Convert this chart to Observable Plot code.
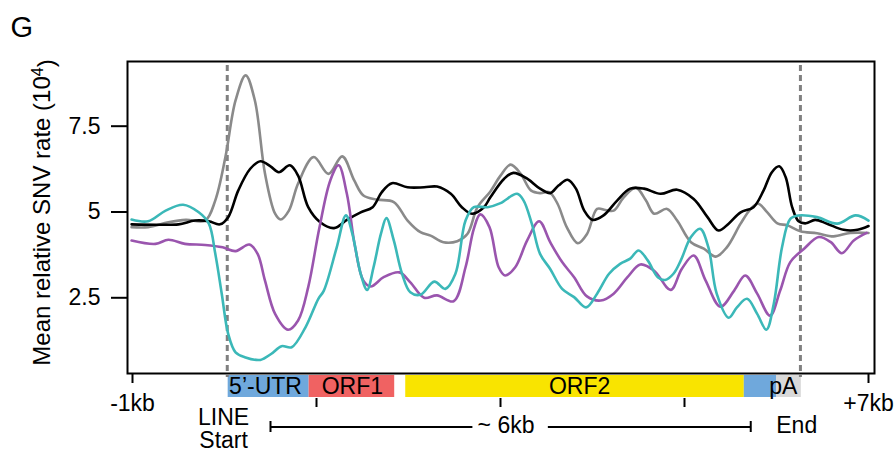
<!DOCTYPE html>
<html>
<head>
<meta charset="utf-8">
<script src="https://cdn.jsdelivr.net/npm/d3@7"></script>
<script src="https://cdn.jsdelivr.net/npm/@observablehq/plot@0.6"></script>
<style>
  body { margin: 0; background: #fff; }
</style>
</head>
<body>
<div id="chart"></div>
<script>
// ---------------- data (x in kb along the LINE metaplot, y = mean relative SNV rate ×10^4) ----------------
const grayX = [-1.01,-0.83,-0.61,-0.42,-0.21,-0.10,0.01,0.12,0.23,0.33,0.44,0.55,0.61,0.70,0.80,0.97,1.13,1.28,1.41,1.51,1.66,1.84,1.99,2.13,2.24,2.38,2.53,2.64,2.75,2.89,3.00,3.11,3.22,3.33,3.43,3.53,3.62,3.72,3.84,3.94,4.05,4.14,4.23,4.34,4.47,4.58,4.67,4.81,4.92,5.07,5.21,5.34,5.46,5.61,5.72,5.80,5.90,6.01,6.12,6.26,6.44,6.62,6.80,7.00];
const grayY = [4.56,4.56,4.70,4.77,4.75,5.34,6.60,8.25,8.98,8.25,6.12,4.95,4.78,5.04,5.83,6.60,6.11,6.62,5.92,5.48,5.36,5.29,4.75,4.41,4.31,4.12,4.15,4.36,5.14,5.60,6.06,6.38,6.11,5.63,5.55,5.58,5.24,4.56,4.09,4.36,5.09,5.06,5.04,5.43,5.71,5.34,4.95,5.09,4.75,4.12,3.93,3.70,3.97,4.66,5.09,5.24,4.99,4.67,4.61,4.44,4.38,4.29,4.39,4.39];

const blackX = [-1.01,-0.75,-0.50,-0.32,-0.17,-0.05,0.04,0.15,0.28,0.39,0.50,0.59,0.71,0.80,0.91,1.04,1.19,1.33,1.48,1.61,1.71,1.82,1.99,2.17,2.31,2.46,2.58,2.69,2.82,2.89,3.04,3.14,3.29,3.43,3.54,3.63,3.73,3.82,3.91,4.00,4.12,4.27,4.41,4.56,4.74,4.92,5.10,5.25,5.37,5.48,5.61,5.75,5.86,5.95,6.03,6.10,6.17,6.24,6.32,6.42,6.55,6.73,6.88,7.00];
const blackY = [4.64,4.63,4.64,4.75,4.73,4.64,4.85,5.63,6.26,6.48,6.33,6.16,6.36,6.06,5.14,4.70,4.53,4.77,4.99,5.14,5.58,5.84,5.72,5.72,5.74,5.53,5.14,4.95,5.14,5.43,5.97,6.14,5.97,5.68,5.55,5.77,5.94,5.68,5.04,4.77,4.90,5.34,5.68,5.68,5.53,5.65,5.38,4.85,4.46,4.66,4.99,5.14,5.63,6.16,6.33,6.01,5.14,4.73,4.67,4.77,4.66,4.48,4.48,4.59];

const tealX = [-1.01,-0.83,-0.64,-0.45,-0.28,-0.17,-0.10,-0.03,0.04,0.12,0.22,0.39,0.51,0.62,0.73,0.88,1.02,1.08,1.22,1.32,1.39,1.48,1.55,1.62,1.70,1.76,1.84,1.93,2.02,2.13,2.28,2.40,2.51,2.62,2.71,2.86,3.00,3.18,3.25,3.34,3.43,3.54,3.67,3.80,3.93,4.05,4.18,4.30,4.41,4.50,4.60,4.71,4.79,4.88,4.96,5.07,5.17,5.26,5.35,5.48,5.57,5.68,5.79,5.89,5.97,6.06,6.15,6.24,6.44,6.66,6.86,7.00];
const tealY = [4.78,4.73,5.04,5.21,4.99,4.66,3.78,2.62,1.45,0.91,0.77,0.69,0.87,1.09,1.06,1.64,2.47,2.71,3.97,4.90,4.36,3.20,2.73,3.39,4.36,4.82,4.17,3.20,2.66,2.59,2.97,2.76,3.20,4.75,5.14,5.14,5.26,5.53,5.34,4.66,3.78,3.34,2.76,2.52,2.22,2.62,3.20,3.49,3.64,3.88,3.59,3.10,3.02,3.20,3.59,4.27,4.51,3.97,2.62,1.92,2.22,2.47,2.03,1.57,2.32,3.97,4.80,4.90,4.85,4.66,4.90,4.75];

const purpleX = [-1.01,-0.75,-0.61,-0.43,-0.21,-0.02,0.12,0.27,0.36,0.44,0.55,0.69,0.80,0.91,1.03,1.15,1.24,1.33,1.42,1.51,1.59,1.73,1.90,2.02,2.17,2.31,2.49,2.62,2.71,2.78,2.88,2.98,3.05,3.16,3.29,3.42,3.54,3.67,3.80,3.94,4.09,4.23,4.38,4.52,4.67,4.85,4.97,5.10,5.23,5.39,5.54,5.66,5.79,5.93,6.04,6.15,6.30,6.46,6.59,6.71,6.84,6.98];
const purpleY = [4.17,4.07,4.19,4.07,4.04,3.97,3.86,4.05,3.78,3.00,2.03,1.57,1.84,2.81,4.52,5.92,6.36,5.53,3.97,3.00,2.83,3.10,3.24,2.95,2.50,2.57,2.40,3.39,4.51,4.93,4.56,3.39,3.15,3.39,4.17,4.73,4.12,3.54,3.10,2.54,2.42,2.62,3.10,3.47,3.29,2.73,3.34,3.73,3.00,2.24,2.71,3.15,2.62,1.98,2.71,3.54,3.93,4.27,4.12,3.80,4.17,4.39];

// LINE element structure
const geneType  = ["UTR", "ORF1", "ORF2", "UTR", "pA"];
const geneStart = [0.04, 0.92, 1.97, 5.65, 6.00];
const geneEnd   = [0.92, 1.85, 5.65, 6.00, 6.27];
const geneLabelsStart = ["5’-UTR", "pA"];
const geneLabelsStartX = [0.05, 5.92];
const geneLabelsMid = ["ORF1", "ORF2"];
const geneLabelsMidX = [1.39, 3.86];

// boundaries and axis labels
const lineBounds = [0.03, 6.26];
const yTicks = [2.5, 5, 7.5];
const yTickLabels = ["2.5", "5", "7.5"];
const xTickVals = [-1, 7];
const xTickLabels = ["-1kb", "+7kb"];
const innerTicks = [1, 3, 5];
const bracketStart = [0.50, 3.52];
const bracketEnd = [2.70, 5.72];
const bracketCaps = [0.50, 5.72];
const startLabel = ["LINE\nStart"];
const startLabelX = [-0.01];
const midLabels = ["~ 6kb", "End"];
const midLabelsX = [3.06, 6.22];
const yLabel = "Mean relative SNV rate (10";
const yLabelSup = "4";
const panelLabel = "G";

// ---------------- tables ----------------
const toRows = (xs, ys) => xs.map((x, i) => ({x, y: ys[i]}));
const gray = toRows(grayX, grayY);
const black = toRows(blackX, blackY);
const teal = toRows(tealX, tealY);
const purple = toRows(purpleX, purpleY);
const genes = geneType.map((t, i) => ({type: t, start: geneStart[i], end: geneEnd[i]}));
const brackets = bracketStart.map((s, i) => ({s, e: bracketEnd[i]}));

const font = "'Liberation Sans', Arial, Helvetica, sans-serif";
const lw = 2.6;

const chart = Plot.plot({
  width: 894,
  height: 453,
  marginTop: 61,
  marginLeft: 127,
  marginRight: 20,
  marginBottom: 80,
  style: {fontFamily: font, fontSize: "23px", background: "#fff", color: "#000", overflow: "visible"},
  x: {domain: [-1, 7], insetLeft: 5, insetRight: 6},
  y: {domain: [0.294, 9.385]},
  color: {domain: ["UTR", "ORF1", "ORF2", "pA"], range: ["#6fa8dc", "#f06262", "#f9e400", "#d9d9d9"]},
  marks: [
    // gene structure bar
    Plot.rect(genes, {x1: "start", x2: "end", fill: "type", insetTop: 314, insetBottom: -24}),
    // LINE start/end dashed lines
    Plot.ruleX(lineBounds, {stroke: "#808080", strokeWidth: 3, strokeDasharray: "6,4", insetTop: 4, insetBottom: -4}),
    // series
    Plot.line(gray, {x: "x", y: "y", stroke: "#8a8a8a", strokeWidth: lw, curve: "catmull-rom"}),
    Plot.line(black, {x: "x", y: "y", stroke: "#000", strokeWidth: lw, curve: "catmull-rom"}),
    Plot.line(purple, {x: "x", y: "y", stroke: "#9a55ae", strokeWidth: lw, curve: "catmull-rom"}),
    Plot.line(teal, {x: "x", y: "y", stroke: "#3bb8b8", strokeWidth: lw, curve: "catmull-rom"}),
    // frame and axes
    Plot.frame({stroke: "#000", strokeWidth: 2}),
    Plot.axisY({ticks: yTicks, tickFormat: d => yTickLabels[yTicks.indexOf(d)], tickSize: 16, tickPadding: 11, strokeWidth: 2, label: null, fontSize: 23}),
    Plot.axisX({ticks: xTickVals, tickFormat: d => xTickLabels[xTickVals.indexOf(d)], tickSize: 10, tickPadding: 11, strokeWidth: 2, label: null, fontSize: 23}),
    Plot.ruleX(innerTicks, {stroke: "#000", strokeWidth: 2, insetTop: 337, insetBottom: -34}),
    // gene labels
    Plot.text(geneLabelsStart, {x: (d, i) => geneLabelsStartX[i], text: d => d, frameAnchor: "bottom", lineAnchor: "middle", dy: 13, textAnchor: "start", fontSize: 23, fill: "#000"}),
    Plot.text(geneLabelsMid, {x: (d, i) => geneLabelsMidX[i], text: d => d, frameAnchor: "bottom", lineAnchor: "middle", textAnchor: "middle", dy: 13, fontSize: 23, fill: "#000"}),
    // bracket annotation
    Plot.rect(brackets, {x1: "s", x2: "e", fill: "#000", insetTop: 365, insetBottom: -55}),
    Plot.ruleX(bracketCaps, {stroke: "#000", strokeWidth: 2, insetTop: 360, insetBottom: -59}),
    Plot.text(startLabel, {x: (d, i) => startLabelX[i], text: d => d, frameAnchor: "bottom", lineAnchor: "top", textAnchor: "middle", dy: 36, lineHeight: 0.97, fontSize: 23}),
    Plot.text(midLabels, {x: (d, i) => midLabelsX[i], text: d => d, frameAnchor: "bottom", lineAnchor: "top", textAnchor: "middle", dy: 43, fontSize: 23}),
    // y label
    Plot.text([yLabel], {frameAnchor: "left", textAnchor: "middle", lineAnchor: "middle", rotate: -90, dx: -85, dy: -5, fontSize: 24, className: "ylab"}),
    // panel label
    Plot.text([panelLabel], {frameAnchor: "top-left", textAnchor: "start", lineAnchor: "middle", dx: -117, dy: -34, fontSize: 29})
  ]
});

// superscript for the y-axis label
const yl = chart.querySelector(".ylab text");
if (yl) {
  const ns = "http://www.w3.org/2000/svg";
  const sup = document.createElementNS(ns, "tspan");
  sup.setAttribute("dy", "-0.45em");
  sup.setAttribute("font-size", "16");
  sup.textContent = yLabelSup;
  const close = document.createElementNS(ns, "tspan");
  close.setAttribute("dy", "0.45em");
  close.textContent = ")";
  yl.appendChild(sup);
  yl.appendChild(close);
}

document.getElementById("chart").appendChild(chart);
</script>
</body>
</html>
